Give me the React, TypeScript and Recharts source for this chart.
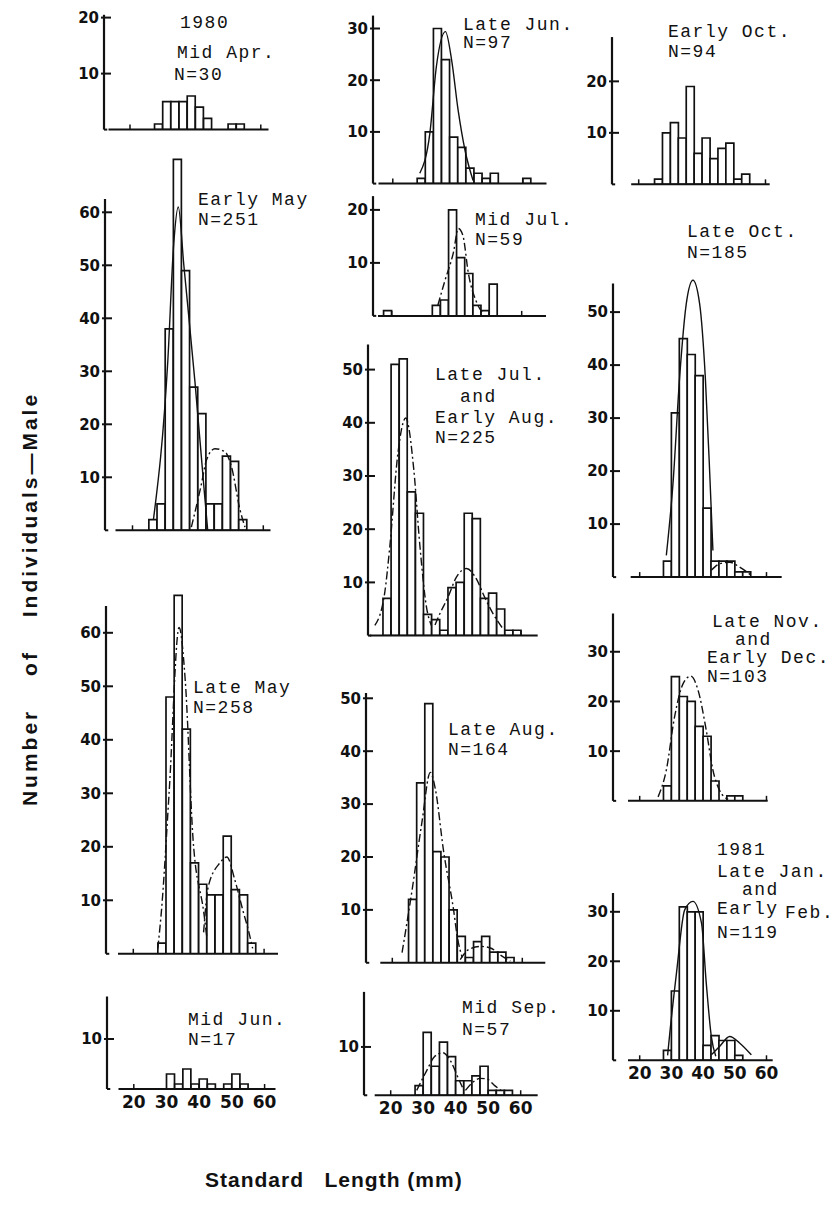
import React from "react";
import { ComposedChart, Bar, Line, XAxis, YAxis, ReferenceLine } from "recharts";

// 2.5 mm length classes (midpoints), shared by all panels
const BIN_MIDS = [16.25, 18.75, 21.25, 23.75, 26.25, 28.75, 31.25, 33.75, 36.25, 38.75, 41.25, 43.75, 46.25, 48.75, 51.25, 53.75, 56.25, 58.75, 61.25];

// counts per class, 1980-81
const midAprCounts = [0, 0, 0, 0, 0, 1, 5, 5, 5, 6, 4, 2, 0, 0, 1, 1, 0, 0, 0];
const earlyMayCounts = [0, 0, 0, 0, 2, 5, 38, 70, 49, 27, 22, 5, 5, 14, 13, 2, 0, 0, 0];
const lateMayCounts = [0, 0, 0, 0, 0, 2, 48, 67, 42, 17, 13, 11, 11, 22, 12, 11, 2, 0, 0];
const midJunCounts = [0, 0, 0, 0, 0, 0, 3, 1, 4, 1, 2, 1, 0, 1, 3, 1, 0, 0, 0];
const lateJunCounts = [0, 0, 0, 0, 0, 1, 10, 30, 24, 9, 7, 3, 2, 1, 2, 0, 0, 0, 1];
const midJulCounts = [0, 1, 0, 0, 0, 0, 0, 2, 3, 20, 11, 8, 2, 1, 6, 0, 0, 0, 0];
const lateJulCounts = [0, 7, 51, 52, 27, 23, 4, 3, 1, 9, 10, 23, 22, 7, 8, 5, 1, 1, 0];
const lateAugCounts = [0, 0, 0, 0, 12, 34, 49, 21, 20, 10, 5, 1, 4, 5, 2, 2, 1, 0, 0];
const midSepCounts = [0, 0, 0, 0, 0, 2, 13, 6, 11, 8, 3, 3, 4, 6, 1, 1, 1, 0, 0];
const earlyOctCounts = [0, 0, 0, 0, 1, 10, 12, 9, 19, 6, 9, 5, 7, 8, 1, 2, 0, 0, 0];
const lateOctCounts = [0, 0, 0, 0, 0, 3, 31, 45, 42, 38, 13, 3, 3, 3, 1, 1, 0, 0, 0];
const lateNovCounts = [0, 0, 0, 0, 0, 3, 25, 21, 20, 15, 13, 4, 0, 1, 1, 0, 0, 0, 0];
const lateJanCounts = [0, 0, 0, 0, 0, 2, 14, 31, 30, 30, 3, 5, 4, 4, 1, 0, 0, 0, 0];

// fitted normal curves, [length mm, count]
const earlyMayFitA = [[26.4, 2], [30.8, 32], [32.6, 54], [34, 61], [35.7, 50], [39.1, 28], [42, 7], [43, 0]];
const earlyMayFitB = [[38, 0.6], [41.1, 8.8], [42.6, 13.2], [45.2, 15.4], [48.3, 14.8], [50.3, 11.9], [52.9, 3.8], [54.4, 0.6]];
const lateMayFitA = [[27.5, 1], [28.7, 8.7], [31, 30.6], [34, 61], [35.9, 51], [38.3, 21.2], [41.6, 7.5], [42.5, 3]];
const lateMayFitB = [[41.5, 4], [42.9, 12.5], [46.5, 17], [48.6, 18.1], [51.1, 13.7], [53.6, 7.9], [55.2, 4.4], [56.5, 1]];
const lateJunFit = [[28.3, 2], [31.4, 9.7], [33.4, 22.6], [36.2, 29.4], [38.1, 23.9], [40.1, 14.2], [42.2, 6.5], [44.7, 0.6]];
const midJulFit = [[34.2, 2], [36.4, 6.7], [39, 12], [40.5, 16.5], [41.9, 15.2], [43.6, 8], [46.1, 2.6], [48.2, 0.4]];
const lateJulFitA = [[15, 1.9], [18, 7.9], [19.6, 16.7], [22.1, 34.3], [24.5, 40.9], [27, 31.1], [28.8, 17.3], [30.9, 5.3], [32.4, 1.9]];
const lateJulFitB = [[33.5, 2], [35, 4.1], [37.5, 7.2], [40.1, 11], [43.2, 12.6], [46.2, 10.7], [48.8, 7.2], [51.4, 4.1], [54.4, 1.3]];
const lateAugFitA = [[23, 1.9], [26.1, 13.8], [29.1, 26.5], [31.7, 36], [33.2, 33], [35.8, 21], [38.9, 9.8], [39.9, 5.3], [41.5, 1]];
const lateAugFitB = [[40.9, 0.6], [43.5, 2.5], [47.1, 3.1], [50.2, 2.8], [53.2, 1.5], [56.3, 0.3]];
const midSepFitA = [[28, 1], [31, 5], [33.5, 8], [36, 8.8], [38.5, 7], [40.5, 4], [42.5, 1]];
const midSepFitB = [[43, 1], [45, 2.5], [47.5, 3.5], [49.5, 3.4], [52, 2], [55, 0.5]];
const lateOctFitA = [[28.4, 4.1], [30.5, 17.6], [32.6, 37.7], [34.7, 51.6], [36.8, 56], [38.9, 51.6], [40.7, 37.7], [42.1, 19.5], [43.1, 5]];
const lateOctFitB = [[42.6, 1.3], [45.2, 2.5], [48.4, 2.8], [51.5, 1.9], [55.7, 0.1]];
const lateNovFit = [[25.8, 0.8], [28.4, 6.2], [31, 16.9], [33.7, 23.6], [36.1, 25.1], [38.4, 22.3], [41, 14.2], [43.1, 6.2], [45.2, 2.1], [47.9, 0.3]];
const lateJanFitA = [[28.8, 1], [29.5, 5.5], [31.6, 17.6], [34.2, 30.4], [36.8, 32.1], [39.5, 27.7], [41, 15.6], [42.6, 4.8], [44, 0.8]];
const lateJanFitB = [[42.6, 1.1], [45.2, 2.8], [48.4, 4.8], [51.5, 3.5], [55.2, 1.1]];

const X_TICKS = [20, 30, 40, 50, 60];

// typed annotations: text, left x, centre y
const NOTES: [string, number, number][] = [
  ["1980", 180, 23], ["Mid Apr.", 177, 53], ["N=30", 174, 75],
  ["Early May", 198, 200], ["N=251", 198, 220],
  ["Late May", 193, 688], ["N=258", 193, 708],
  ["Mid Jun.", 188, 1020], ["N=17", 188, 1040],
  ["Late Jun.", 463, 25], ["N=97", 463, 43],
  ["Mid Jul.", 475, 220], ["N=59", 475, 240],
  ["Late Jul.", 435, 375], ["and", 460, 397], ["Early Aug.", 435, 418], ["N=225", 435, 438],
  ["Late Aug.", 448, 730], ["N=164", 448, 750],
  ["Mid Sep.", 462, 1008], ["N=57", 462, 1030],
  ["Early Oct.", 668, 32], ["N=94", 668, 52],
  ["Late Oct.", 687, 232], ["N=185", 687, 253],
  ["Late Nov.", 712, 622], ["and", 735, 640], ["Early Dec.", 707, 658], ["N=103", 707, 677],
  ["1981", 717, 850], ["Late Jan.", 717, 872], ["and", 742, 890], ["Early", 717, 909], ["Feb.", 785, 913], ["N=119", 717, 933],
];

const INK = "#111";
const DASHDOT = "8 3 2 3";
const YW = 40;
const MT = 4;
const MR = 16;
const XH = 28;

type Fit = { pts: number[][]; dash?: boolean };
type PanelCfg = {
  counts: number[];
  fits: Fit[];
  axisX: number; x20: number; k: number; baseStart: number; baseEnd: number;
  y0: number; s: number; axisTop: number; yMax: number; yTicks: number[];
  xLabels?: boolean;
};

const PANELS: PanelCfg[] = [
  { counts: midAprCounts, fits: [], axisX: 103.5, x20: 129.5, k: 3.27, baseStart: 108, baseEnd: 268, y0: 130, s: 5.6, axisTop: 20.5, yMax: 21, yTicks: [10, 20] },
  { counts: earlyMayCounts, fits: [{ pts: earlyMayFitA }, { pts: earlyMayFitB, dash: true }], axisX: 104.5, x20: 132, k: 3.27, baseStart: 115, baseEnd: 270, y0: 530, s: 5.3, axisTop: 62.5, yMax: 71, yTicks: [10, 20, 30, 40, 50, 60] },
  { counts: lateMayCounts, fits: [{ pts: lateMayFitA, dash: true }, { pts: lateMayFitB, dash: true }], axisX: 106, x20: 133.3, k: 3.27, baseStart: 118, baseEnd: 278, y0: 953.5, s: 5.35, axisTop: 65, yMax: 68, yTicks: [10, 20, 30, 40, 50, 60] },
  { counts: midJunCounts, fits: [], axisX: 106.5, x20: 133.3, k: 3.27, baseStart: 118, baseEnd: 275, y0: 1089, s: 5.0, axisTop: 18.5, yMax: 19, yTicks: [10], xLabels: true },
  { counts: lateJunCounts, fits: [{ pts: lateJunFit }], axisX: 372.5, x20: 392.3, k: 3.25, baseStart: 378, baseEnd: 546, y0: 183.3, s: 5.17, axisTop: 32.5, yMax: 33, yTicks: [10, 20, 30] },
  { counts: midJulCounts, fits: [{ pts: midJulFit, dash: true }], axisX: 373, x20: 391.7, k: 3.25, baseStart: 378, baseEnd: 546, y0: 315.7, s: 5.3, axisTop: 22.6, yMax: 23, yTicks: [10, 20] },
  { counts: lateJulCounts, fits: [{ pts: lateJulFitA, dash: true }, { pts: lateJulFitB, dash: true }], axisX: 368.3, x20: 391.4, k: 3.25, baseStart: 370, baseEnd: 538, y0: 636, s: 5.32, axisTop: 54.7, yMax: 55, yTicks: [10, 20, 30, 40, 50] },
  { counts: lateAugCounts, fits: [{ pts: lateAugFitA, dash: true }, { pts: lateAugFitB, dash: true }], axisX: 365.7, x20: 392, k: 3.25, baseStart: 380, baseEnd: 545, y0: 962.5, s: 5.29, axisTop: 51, yMax: 51, yTicks: [10, 20, 30, 40, 50] },
  { counts: midSepCounts, fits: [{ pts: midSepFitA, dash: true }, { pts: midSepFitB, dash: true }], axisX: 364.3, x20: 391, k: 3.25, baseStart: 375, baseEnd: 538, y0: 1095, s: 4.83, axisTop: 21.4, yMax: 22, yTicks: [10], xLabels: true },
  { counts: earlyOctCounts, fits: [], axisX: 612.3, x20: 639, k: 3.17, baseStart: 631.5, baseEnd: 770, y0: 184, s: 5.15, axisTop: 28.6, yMax: 29, yTicks: [10, 20] },
  { counts: lateOctCounts, fits: [{ pts: lateOctFitA }, { pts: lateOctFitB, dash: true }], axisX: 613.3, x20: 640, k: 3.17, baseStart: 631, baseEnd: 782, y0: 576.7, s: 5.3, axisTop: 55.4, yMax: 57, yTicks: [10, 20, 30, 40, 50] },
  { counts: lateNovCounts, fits: [{ pts: lateNovFit, dash: true }], axisX: 613.3, x20: 640, k: 3.17, baseStart: 628.3, baseEnd: 768, y0: 800.7, s: 4.97, axisTop: 37.7, yMax: 38, yTicks: [10, 20, 30] },
  { counts: lateJanCounts, fits: [{ pts: lateJanFitA }, { pts: lateJanFitB }], axisX: 613.3, x20: 640, k: 3.17, baseStart: 628.3, baseEnd: 773, y0: 1060.7, s: 4.95, axisTop: 33.8, yMax: 34, yTicks: [10, 20, 30], xLabels: true },
];

const numFont = "'DejaVu Sans', sans-serif";

function YTick(props: any) {
  const { x, y, payload } = props;
  return (
    <g>
      <line x1={x - 3} x2={x + 7} y1={y} y2={y} stroke={INK} strokeWidth={2} />
      <text x={x - 5} y={y} dy="0.36em" textAnchor="end" fontFamily={numFont} fontWeight="bold" fontSize={15} fill={INK}>
        {payload.value}
      </text>
    </g>
  );
}

function XTick(props: any) {
  const { x, y, payload, labels } = props;
  const edge = payload.value === 20 || payload.value === 60;
  return (
    <g>
      {edge && <line x1={x} x2={x} y1={y} y2={y - 5} stroke={INK} strokeWidth={1.5} />}
      {labels && (
        <text x={x} y={y + 19} textAnchor="middle" fontFamily={numFont} fontWeight="bold" fontSize={17} fill={INK}>
          {payload.value}
        </text>
      )}
    </g>
  );
}

function Panel({ p }: { p: PanelCfg }) {
  const xmin = 20 - (p.x20 - p.axisX) / p.k;
  const xmax = 20 + (p.baseEnd - p.x20) / p.k;
  const xBase = 20 + (p.baseStart - p.x20) / p.k;
  const plotW = p.baseEnd - p.axisX;
  const plotH = p.yMax * p.s;
  const data = BIN_MIDS.map((x, i) => ({ x, n: p.counts[i] }));
  return (
    <div style={{ position: "absolute", left: p.axisX - YW, top: p.y0 - plotH - MT }}>
      <ComposedChart
        width={YW + plotW + MR}
        height={MT + plotH + XH}
        data={data}
        margin={{ top: MT, right: MR, bottom: 0, left: 0 }}
        barCategoryGap={0}
        barGap={0}
      >
        <XAxis
          xAxisId="b"
          type="number"
          dataKey="x"
          domain={[xmin, xmax]}
          allowDataOverflow
          ticks={X_TICKS}
          interval={0}
          axisLine={false}
          tickLine={false}
          tickSize={0}
          tickMargin={0}
          height={XH}
          tick={(t: any) => <XTick {...t} labels={!!p.xLabels} />}
        />
        <XAxis xAxisId="c" type="number" dataKey="x" domain={[xmin, xmax]} allowDataOverflow hide />
        <YAxis
          type="number"
          domain={[0, p.yMax]}
          allowDataOverflow
          ticks={p.yTicks}
          interval={0}
          width={YW}
          axisLine={false}
          tickLine={false}
          tickSize={0}
          tickMargin={0}
          tick={(t: any) => <YTick {...t} />}
        />
        <Bar xAxisId="b" dataKey="n" fill="#fff" stroke={INK} strokeWidth={1.7} isAnimationActive={false} />
        {p.fits.map((f, i) => (
          <Line
            key={i}
            xAxisId="c"
            data={f.pts.map(([x, y]) => ({ x, y }))}
            dataKey="y"
            type="monotone"
            stroke={INK}
            strokeWidth={1.4}
            strokeDasharray={f.dash ? DASHDOT : undefined}
            dot={false}
            isAnimationActive={false}
          />
        ))}
        <ReferenceLine xAxisId="b" segment={[{ x: xmin, y: 0 }, { x: xmin, y: p.axisTop }]} stroke={INK} strokeWidth={2.2} ifOverflow="visible" />
        <ReferenceLine xAxisId="b" segment={[{ x: xmin, y: 0 }, { x: xmin + 1, y: 0 }]} stroke={INK} strokeWidth={2} ifOverflow="visible" />
        <ReferenceLine xAxisId="b" segment={[{ x: xBase, y: 0 }, { x: xmax, y: 0 }]} stroke={INK} strokeWidth={2} ifOverflow="visible" />
      </ComposedChart>
    </div>
  );
}

export default function App() {
  return (
    <div style={{ position: "absolute", left: 0, top: 0, width: 839, height: 1206, background: "#fff", overflow: "hidden" }}>
      {PANELS.map((p, i) => (
        <Panel key={i} p={p} />
      ))}
      {NOTES.map(([t, x, y], i) => (
        <div
          key={i}
          style={{
            position: "absolute",
            left: x,
            top: y - 9,
            height: 18,
            lineHeight: "18px",
            fontFamily: "'Liberation Mono', monospace",
            fontSize: 18,
            letterSpacing: 1.5,
            whiteSpace: "pre",
            color: INK,
          }}
        >
          {t}
        </div>
      ))}
      <div
        style={{
          position: "absolute",
          left: 30,
          top: 599,
          transform: "translate(-50%, -50%) rotate(-90deg)",
          fontFamily: "'Liberation Sans', Arial, sans-serif",
          fontWeight: "bold",
          fontSize: 21,
          letterSpacing: 3,
          wordSpacing: 24,
          whiteSpace: "nowrap",
          color: INK,
        }}
      >
        Number of Individuals—Male
      </div>
      <div
        style={{
          position: "absolute",
          left: 205,
          top: 1168,
          fontFamily: "'Liberation Sans', Arial, sans-serif",
          fontWeight: "bold",
          fontSize: 21,
          letterSpacing: 1,
          whiteSpace: "pre",
          color: INK,
        }}
      >
        {"Standard   Length (mm)"}
      </div>
    </div>
  );
}
